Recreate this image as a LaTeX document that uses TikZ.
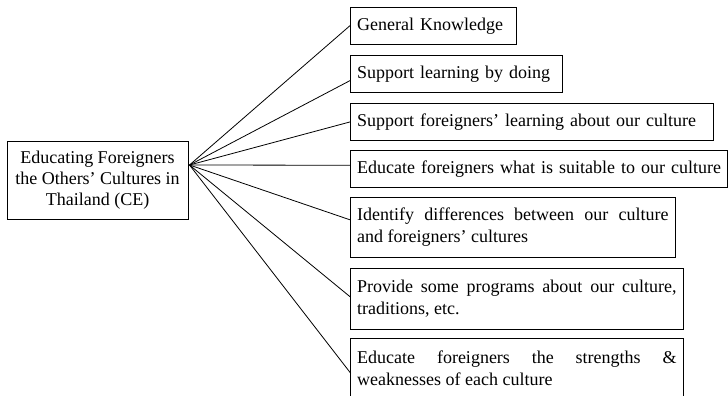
\documentclass[tikz,border=0pt]{standalone}
\usepackage{fontspec}
\setmainfont{Liberation Serif}
\usetikzlibrary{calc}
\hyphenpenalty=10000
\exhyphenpenalty=10000
\begin{document}
\begin{tikzpicture}[x=1pt,y=-1pt,
  box/.style={draw, line width=0.9pt, anchor=north west, outer sep=0pt,
    inner xsep=6.5pt, inner ysep=3pt, align=left,
    font=\fontsize{18}{22}\selectfont},
  jbox/.style={box, align=justify, minimum height=60.5pt},
  sbox/.style={box, minimum height=37.5pt},
  centerbox/.style={draw, line width=0.9pt, anchor=north west, outer sep=0pt,
    minimum width=181pt, minimum height=78pt, align=center, inner sep=2pt,
    font=\fontsize{18}{21}\selectfont},
  link/.style={line width=0.8pt}]
\useasboundingbox (0,0) rectangle (728,396);
\node[centerbox] (c) at (7,141) {Educating Foreigners\\the Others’ Cultures in\\Thailand (CE)};
\coordinate (hub) at ($(c.east)+(1.5,-15)$);
\node[sbox, minimum width=165.3pt, text width=152.3pt] (b1) at (350.7,7) {General Knowledge};
\node[sbox, minimum width=211.3pt, text width=198.3pt] (b2) at (350.7,55) {Support learning by doing};
\node[sbox, minimum width=362.3pt, text width=349.3pt] (b3) at (350.7,103) {Support foreigners’ learning about our culture};
\node[sbox, minimum width=376.3pt, text width=363.3pt] (b4) at (350.7,150) {\mbox{Educate foreigners what is suitable to our culture}};
\node[jbox, minimum width=324.3pt, text width=311.3pt] (b5) at (350.7,197.3) {Identify differences between our culture and foreigners’ cultures};
\node[jbox, minimum width=332.3pt, text width=319.3pt] (b6) at (350.7,268.7) {Provide some programs about our culture, traditions, etc.};
\node[jbox, minimum width=332.3pt, text width=319.3pt] (b7) at (350.7,338) {Educate foreigners the strengths \& weaknesses of each culture};
\draw[link] (hub) -- ([yshift=0.7pt]b1.west);
\draw[link] (hub) -- ([yshift=-6.5pt]b2.west);
\draw[link] (hub) -- (b3.west);
\draw[link] (hub) -- ([yshift=3.5pt]b4.west);
\draw[link] (hub) -- ([yshift=7.5pt]b5.west);
\draw[link] (hub) -- ([yshift=1.7pt]b6.west);
\draw[link] (hub) -- ([yshift=-5pt]b7.west);
\end{tikzpicture}
\end{document}
